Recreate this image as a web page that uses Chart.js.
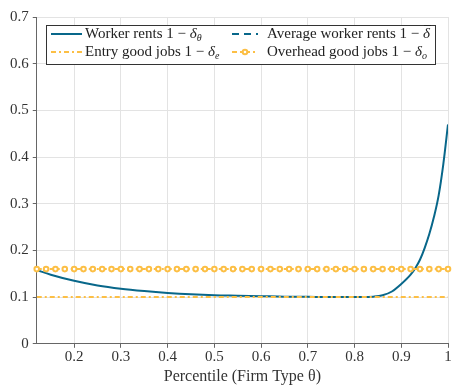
<!DOCTYPE html>
<html>
<head>
<meta charset="utf-8">
<script src="https://cdn.jsdelivr.net/npm/chart.js@4/dist/chart.umd.min.js"></script>
<style>
  html, body { margin: 0; padding: 0; background: #fff; }
  #wrap { width: 454px; height: 385px; }
</style>
</head>
<body>
<div id="wrap"><canvas id="chart" width="454" height="385"></canvas></div>
<script>
// values
const workerX = [0.12, 0.15, 0.2, 0.25, 0.3, 0.35, 0.4, 0.45, 0.5, 0.55, 0.6, 0.65, 0.7, 0.75, 0.8, 0.82, 0.84, 0.86, 0.88, 0.9, 0.92, 0.93, 0.94, 0.95, 0.96, 0.97, 0.98, 0.99, 1.0];
const workerY = [0.158, 0.148, 0.135, 0.125, 0.118, 0.113, 0.109, 0.106, 0.104, 0.103, 0.102, 0.101, 0.101, 0.1, 0.1, 0.1, 0.101, 0.104, 0.112, 0.128, 0.148, 0.162, 0.18, 0.205, 0.235, 0.272, 0.318, 0.385, 0.47];
const entryLevel = 0.1;
const overheadLevel = 0.16;
const overheadX = [0.12, 0.14, 0.16, 0.18, 0.2, 0.22, 0.24, 0.26, 0.28, 0.3, 0.32, 0.34, 0.36, 0.38, 0.4, 0.42, 0.44, 0.46, 0.48, 0.5, 0.52, 0.54, 0.56, 0.58, 0.6, 0.62, 0.64, 0.66, 0.68, 0.7, 0.72, 0.74, 0.76, 0.78, 0.8, 0.82, 0.84, 0.86, 0.88, 0.9, 0.92, 0.94, 0.96, 0.98, 1.0];
const xTicks = [0.2, 0.3, 0.4, 0.5, 0.6, 0.7, 0.8, 0.9, 1];
const xTickLabels = ['0.2', '0.3', '0.4', '0.5', '0.6', '0.7', '0.8', '0.9', '1'];
const yTicks = [0, 0.1, 0.2, 0.3, 0.4, 0.5, 0.6, 0.7];
const yTickLabels = ['0', '0.1', '0.2', '0.3', '0.4', '0.5', '0.6', '0.7'];

const BLUE = '#08678a';
const YELLOW = '#fcbf45';
const SERIF = '"Liberation Serif", "DejaVu Serif", serif';
const DASHDOT = [5, 3, 2, 3];

const xMin = 0.12, xMax = 1;

// legend drawn by hand so the subscripts come out right
const legendPlugin = {
    id: 'mathLegend',
    afterDraw(chart) {
        const ctx = chart.ctx;
        const bx = 46, by = 25, bw = 389, bh = 39;
        ctx.save();
        ctx.fillStyle = '#fff';
        ctx.fillRect(bx, by, bw, bh);
        ctx.strokeStyle = '#333';
        ctx.lineWidth = 1;
        ctx.strokeRect(bx + 0.5, by + 0.5, bw, bh);

        const rows = [34, 52];
        const sample = (x0, x1, y, color, dash, width) => {
            ctx.beginPath();
            ctx.setLineDash(dash);
            ctx.strokeStyle = color;
            ctx.lineWidth = width;
            ctx.moveTo(x0, y);
            ctx.lineTo(x1, y);
            ctx.stroke();
            ctx.setLineDash([]);
        };
        sample(51, 82, rows[0], BLUE, [], 2);
        sample(232, 258, rows[0], BLUE, [7, 5], 2);
        sample(51, 82, rows[1], YELLOW, DASHDOT, 2);
        sample(232, 258, rows[1], YELLOW, DASHDOT, 2);
        ctx.beginPath();
        ctx.arc(245, rows[1], 2.3, 0, Math.PI * 2);
        ctx.fillStyle = '#fff';
        ctx.fill();
        ctx.strokeStyle = YELLOW;
        ctx.lineWidth = 2;
        ctx.stroke();

        const label = (x, y, text, sub, bar) => {
            ctx.fillStyle = '#222';
            ctx.textBaseline = 'middle';
            ctx.textAlign = 'left';
            ctx.font = '15px ' + SERIF;
            ctx.fillText(text, x, y);
            let cx = x + ctx.measureText(text).width;
            ctx.font = 'italic 15px ' + SERIF;
            ctx.fillText('δ', cx, y);
            const dw = ctx.measureText('δ').width;
            if (bar) {
                ctx.beginPath();
                ctx.strokeStyle = '#222';
                ctx.lineWidth = 1;
                ctx.moveTo(cx + 1, y - 8.5);
                ctx.lineTo(cx + dw + 1, y - 8.5);
                ctx.stroke();
            }
            cx += dw;
            if (sub) {
                ctx.font = 'italic 10px ' + SERIF;
                ctx.fillText(sub, cx, y + 4);
            }
        };
        label(85, rows[0], 'Worker rents 1 − ', 'θ', false);
        label(267, rows[0], 'Average worker rents 1 − ', '', true);
        label(85, rows[1], 'Entry good jobs 1 − ', 'e', false);
        label(267, rows[1], 'Overhead good jobs 1 − ', 'o', false);
        ctx.restore();
    }
};

new Chart(document.getElementById('chart'), {
    type: 'line',
    data: {
        datasets: [
            {
                label: 'Overhead good jobs',
                data: overheadX.map(x => ({ x: x, y: overheadLevel })),
                borderColor: YELLOW,
                borderWidth: 2,
                borderDash: DASHDOT,
                pointRadius: 2.3,
                pointBackgroundColor: '#fff',
                pointBorderColor: YELLOW,
                pointBorderWidth: 2,
                clip: 6,
                order: 1
            },
            {
                label: 'Entry good jobs',
                data: [{ x: xMin, y: entryLevel }, { x: xMax, y: entryLevel }],
                borderColor: YELLOW,
                borderWidth: 2,
                borderDash: DASHDOT,
                pointRadius: 0,
                order: 2
            },
            {
                label: 'Worker rents',
                data: workerX.map((x, i) => ({ x: x, y: workerY[i] })),
                borderColor: BLUE,
                borderWidth: 2,
                cubicInterpolationMode: 'monotone',
                pointRadius: 0,
                order: 3
            }
        ]
    },
    options: {
        responsive: false,
        animation: false,
        layout: { padding: { left: 6, right: 2, top: 17, bottom: -1 } },
        plugins: {
            legend: { display: false },
            tooltip: { enabled: false }
        },
        scales: {
            x: {
                type: 'linear',
                min: xMin,
                max: xMax,
                afterBuildTicks: scale => { scale.ticks = xTicks.map(v => ({ value: v })); },
                ticks: {
                    autoSkip: false,
                    maxRotation: 0,
                    padding: 0,
                    color: '#333',
                    font: { family: SERIF, size: 15 },
                    callback: (v, i) => xTickLabels[i]
                },
                grid: { color: '#e3e3e3', tickColor: '#666', tickLength: 4, drawTicks: true },
                border: { display: true, color: '#666', width: 1 },
                title: {
                    display: true,
                    text: 'Percentile (Firm Type θ)',
                    color: '#333',
                    font: { family: SERIF, size: 16 },
                    padding: { top: 1, bottom: 0 }
                }
            },
            y: {
                type: 'linear',
                min: 0,
                max: 0.7,
                afterBuildTicks: scale => { scale.ticks = yTicks.map(v => ({ value: v })); },
                ticks: {
                    autoSkip: false,
                    padding: 4,
                    color: '#333',
                    font: { family: SERIF, size: 15 },
                    callback: (v, i) => yTickLabels[i]
                },
                grid: { color: '#e3e3e3', tickColor: '#666', tickLength: 4, drawTicks: true },
                border: { display: true, color: '#666', width: 1 }
            }
        }
    },
    plugins: [legendPlugin]
});
</script>
</body>
</html>
